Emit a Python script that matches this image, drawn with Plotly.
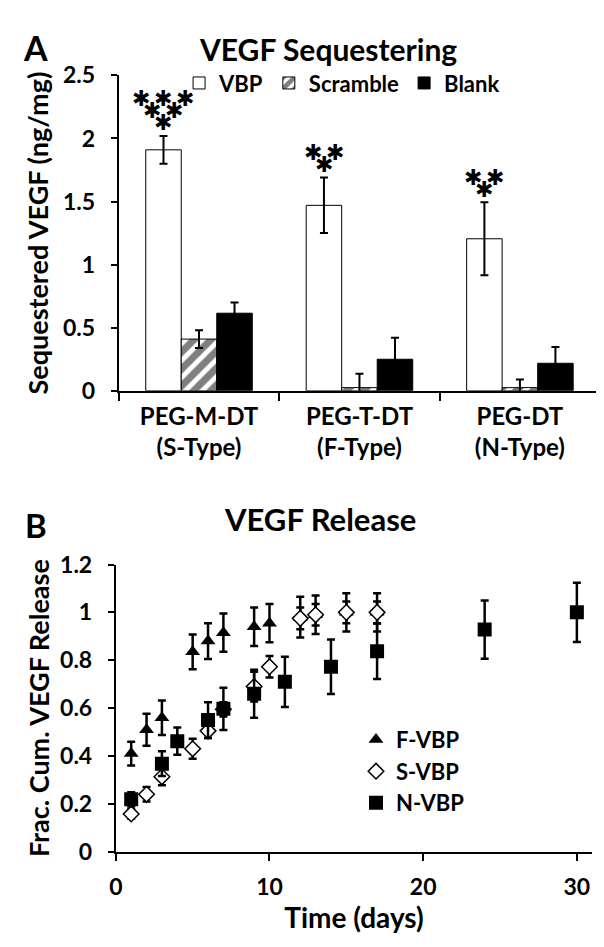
import plotly.graph_objects as go

# ---------------- Panel A data ----------------
groups = ["PEG-M-DT<br>(S-Type)", "PEG-T-DT<br>(F-Type)", "PEG-DT<br>(N-Type)"]
group_pos = [0, 1, 2]
vbp = [1.91, 1.47, 1.205]
vbp_err = [0.11, 0.22, 0.29]
scramble = [0.41, 0.025, 0.025]
scramble_err = [0.07, 0.11, 0.065]
blank = [0.615, 0.25, 0.218]
blank_err = [0.085, 0.17, 0.13]
# asterisk rows above the VBP bars (count per row, top to bottom)
star_rows = [[3, 2, 1], [2, 1], [2, 1]]

# ---------------- Panel B data ----------------
f_t = [1, 2, 3, 5, 6, 7, 9, 10, 12, 13, 15, 17]
f_v = [0.41, 0.51, 0.56, 0.835, 0.88, 0.915, 0.94, 0.955, 0.98, 0.99, 1.0, 1.0]
f_e = [0.05, 0.067, 0.072, 0.073, 0.075, 0.08, 0.08, 0.08, 0.085, 0.08, 0.08, 0.08]
s_t = [1, 2, 3, 5, 6, 7, 9, 10, 12, 13, 15, 17]
s_v = [0.158, 0.24, 0.313, 0.43, 0.505, 0.595, 0.69, 0.773, 0.975, 0.99, 1.0, 1.0]
s_e = [0.02, 0.03, 0.035, 0.042, 0.03, 0.03, 0.062, 0.045, 0.045, 0.045, 0.045, 0.045]
n_t = [1, 3, 4, 6, 7, 9, 11, 14, 17, 24, 30]
n_v = [0.219, 0.368, 0.462, 0.55, 0.597, 0.66, 0.71, 0.773, 0.838, 0.928, 1.0]
n_e = [0.03, 0.052, 0.057, 0.075, 0.088, 0.1, 0.105, 0.114, 0.116, 0.122, 0.124]

W, H = 604, 947
FONT = "Lato, sans-serif"
BOLD = 700


def px_x(p):
    return p / W


def px_y(p):
    return (H - p) / H


def err(arr, width=4, thick=2):
    return dict(type="data", array=arr, color="black", thickness=thick, width=width, visible=True)


fig = go.Figure()

bargap = 0.336
barw = (1 - bargap) / 3

fig.add_trace(go.Bar(x=group_pos, y=vbp, name="VBP",
                     marker=dict(color="white", line=dict(color="black", width=1)),
                     error_y=err(vbp_err), xaxis="x", yaxis="y", legend="legend"))
fig.add_trace(go.Bar(x=group_pos, y=scramble, name="Scramble",
                     marker=dict(color="white", line=dict(color="black", width=1),
                                 pattern=dict(shape="/", fgcolor="black", bgcolor="white",
                                              size=12, solidity=0.6)),
                     error_y=err(scramble_err), xaxis="x", yaxis="y", legend="legend"))
fig.add_trace(go.Bar(x=group_pos, y=blank, name="Blank",
                     marker=dict(color="black", line=dict(color="black", width=1)),
                     error_y=err(blank_err), xaxis="x", yaxis="y", legend="legend"))

fig.add_trace(go.Scatter(x=f_t, y=f_v, name="F-VBP", mode="markers",
                         marker=dict(symbol="triangle-up", size=13, color="black"),
                         error_y=err(f_e, 4, 2.5), xaxis="x2", yaxis="y2", legend="legend2"))
fig.add_trace(go.Scatter(x=s_t, y=s_v, name="S-VBP", mode="markers",
                         marker=dict(symbol="diamond", size=12, color="white",
                                     line=dict(color="black", width=1.5)),
                         error_y=err(s_e, 4, 2.5), xaxis="x2", yaxis="y2", legend="legend2"))
fig.add_trace(go.Scatter(x=n_t, y=n_v, name="N-VBP", mode="markers",
                         marker=dict(symbol="square", size=14, color="black"),
                         error_y=err(n_e, 4, 2.5), xaxis="x2", yaxis="y2", legend="legend2"))

tickfont = dict(family=FONT, size=23, color="black", weight=BOLD)
catfont = dict(family=FONT, size=24, color="black", weight=BOLD)
titlefont = dict(family=FONT, size=27, color="black", weight=BOLD)

axis_common = dict(showline=True, linecolor="black", linewidth=2, showgrid=False,
                   zeroline=False, tickcolor="black", tickwidth=2)

annotations = []
# asterisks
for gi, rows in enumerate(star_rows):
    top = vbp[gi] + vbp_err[gi]
    nrows = len(rows)
    for ri, count in enumerate(rows):
        level = nrows - 1 - ri  # 0 = bottom row
        for k in range(count):
            off = (k - (count - 1) / 2) * 22
            annotations.append(dict(
                x=group_pos[gi] - barw, y=top, xref="x", yref="y",
                text="✱", showarrow=False, xanchor="center", yanchor="middle",
                xshift=off, yshift=13 + 12 * level,
                font=dict(family="DejaVu Sans", size=22, color="black")))

annotations += [
    dict(x=px_x(21), y=px_y(25), xref="paper", yref="paper", text="A", showarrow=False,
         xanchor="center", yanchor="middle", font=dict(family=FONT, size=34, color="black", weight=BOLD)),
    dict(x=px_x(317), y=px_y(27), xref="paper", yref="paper", text="VEGF Sequestering", showarrow=False,
         xanchor="center", yanchor="middle", font=dict(family=FONT, size=30, color="black", weight=BOLD)),
    dict(x=px_x(21), y=px_y(517), xref="paper", yref="paper", text="B", showarrow=False,
         xanchor="center", yanchor="middle", font=dict(family=FONT, size=33, color="black", weight=BOLD)),
    dict(x=px_x(309), y=px_y(511), xref="paper", yref="paper", text="VEGF Release", showarrow=False,
         xanchor="center", yanchor="middle", font=dict(family=FONT, size=31, color="black", weight=BOLD)),
]

fig.update_layout(
    width=W, height=H,
    margin=dict(l=0, r=0, t=0, b=0),
    paper_bgcolor="white", plot_bgcolor="white",
    barmode="group", bargap=bargap, bargroupgap=0,
    font=dict(family=FONT, color="black"),
    xaxis=dict(domain=[px_x(105), px_x(592)], range=[-0.5, 2.5], anchor="y",
               tickmode="array", tickvals=group_pos, ticktext=groups, ticks="",
               ticklabelstandoff=3, tickfont=catfont,
               minor=dict(tickmode="array", tickvals=[-0.5, 0.5, 1.5, 2.5], ticks="outside",
                          ticklen=8, tickwidth=2, tickcolor="black", showgrid=False),
               **axis_common),
    yaxis=dict(domain=[px_y(379), px_y(54)], range=[0, 2.5], anchor="x",
               tickmode="array", tickvals=[0, 0.5, 1, 1.5, 2, 2.5],
               ticktext=["0", "0.5", "1", "1.5", "2", "2.5"],
               ticks="outside", ticklen=6, ticklabelstandoff=11, tickfont=tickfont,
               title=dict(text="Sequestered VEGF (ng/mg)", font=titlefont, standoff=7),
               **axis_common),
    xaxis2=dict(domain=[px_x(102), px_x(584)], range=[0, 31], anchor="y2",
                tickmode="array", tickvals=[0, 10, 20, 30], ticktext=["0", "10", "20", "30"],
                ticks="outside", ticklen=7, ticklabelstandoff=7, tickfont=tickfont,
                title=dict(text="Time (days)", font=dict(family=FONT, size=28, color="black", weight=BOLD),
                           standoff=4),
                **axis_common),
    yaxis2=dict(domain=[px_y(854), px_y(558)], range=[0, 1.2], anchor="x2",
                tickmode="array", tickvals=[0, 0.2, 0.4, 0.6, 0.8, 1.0, 1.2],
                ticktext=["0", "0.2", "0.4", "0.6", "0.8", "1", "1.2"],
                ticks="outside", ticklen=6, ticklabelstandoff=11, tickfont=tickfont,
                title=dict(text="Frac. Cum. VEGF Release", font=titlefont, standoff=3),
                **axis_common),
    legend=dict(orientation="h", x=px_x(166), y=px_y(62), xanchor="left", yanchor="middle",
                font=dict(family=FONT, size=22, color="black", weight=BOLD),
                bgcolor="rgba(0,0,0,0)", itemclick=False, itemdoubleclick=False),
    legend2=dict(orientation="v", x=px_x(345), y=px_y(717), xanchor="left", yanchor="top",
                 font=dict(family=FONT, size=22, color="black", weight=BOLD),
                 bgcolor="rgba(0,0,0,0)", tracegroupgap=0, itemclick=False, itemdoubleclick=False),
    annotations=annotations,
    showlegend=True,
)

fig.write_html("out.html")
